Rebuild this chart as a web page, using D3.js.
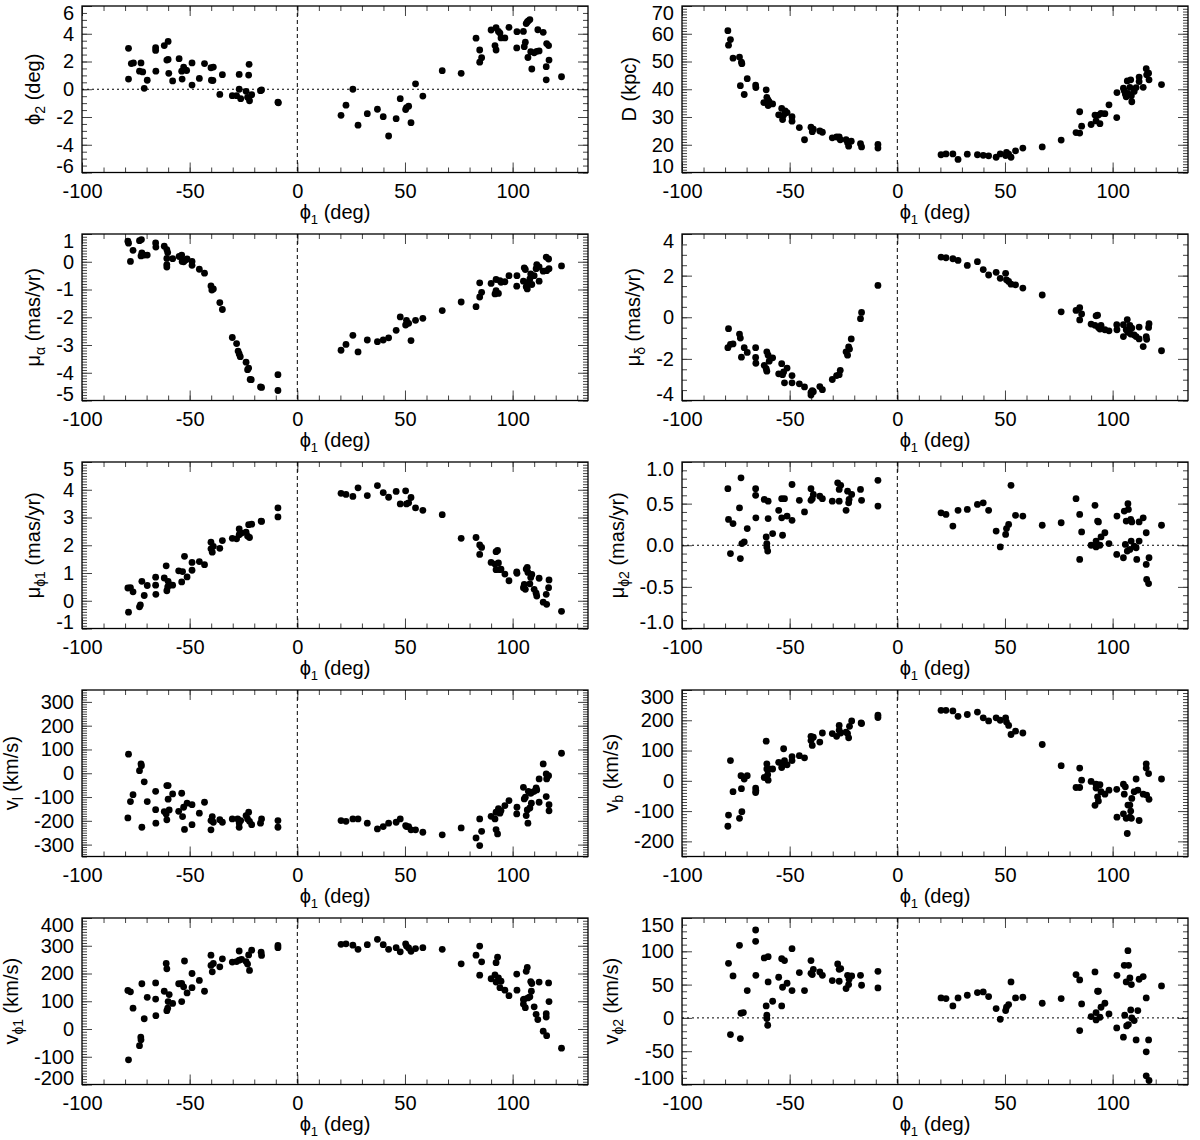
<!DOCTYPE html>
<html>
<head>
<meta charset="utf-8">
<script src="https://cdn.jsdelivr.net/npm/d3@7"></script>
<style>
  body { margin: 0; background: #fff; }
  text { font-family: "Liberation Sans", Arial, Helvetica, sans-serif; font-size: 20px; fill: #000; }
</style>
</head>
<body>
<svg id="fig" width="1200" height="1140"></svg>
<script>
// phi1 (deg) vs value, one array per panel
var phi2Pts = [
[-78.4,2.95],[-78.4,0.73],[-77.1,1.85],[-76.1,1.9],[-72.6,1.9],[-73.3,1.3],[-71.8,1.25],[-71.1,0.07],[-69.7,0.65],[-65.8,2.8],[-65.8,3.0],[-65.7,1.3],[-61.8,3.15],[-60.0,3.45],[-60.6,2.1],[-60.0,2.15],[-59.7,1.15],[-57.9,0.6],[-54.9,2.2],[-53.7,1.3],[-53.5,0.73],[-52.8,1.6],[-52.1,1.4],[-51.4,1.35],[-48.9,1.9],[-48.9,0.3],[-45.5,0.78],[-43.1,1.85],[-40.1,1.55],[-39.0,1.6],[-39.9,0.65],[-39.2,0.63],[-36.0,-0.37],[-34.8,1.05],[-30.2,-0.46],[-28.2,-0.46],[-27.0,1.07],[-27.0,0.0],[-26.3,-0.68],[-23.8,-0.15],[-23.1,-0.58],[-22.6,1.02],[-22.4,1.8],[-22.2,-0.83],[-21.2,-0.39],[-17.1,-0.1],[-16.6,-0.05],[-8.8,-0.98],[-9.0,-0.93],
[20.3,-1.88],[22.6,-1.15],[25.8,0.0],[28.2,-2.59],[32.5,-1.76],[37.2,-1.44],[39.9,-1.98],[42.4,-3.37],[45.9,-2.12],[47.8,-0.68],[50.3,-1.46],[50.7,-1.32],[51.7,-1.22],[52.8,-2.41],[54.9,0.39],[58.3,-0.49],[67.3,1.34],[76.1,1.15],[83.0,3.68],[84.7,2.83],[84.7,1.95],[85.6,2.27],[90.0,4.27],[91.8,3.15],[92.3,2.83],[92.3,4.44],[93.4,4.17],[94.1,4.05],[94.6,3.7],[96.4,3.7],[98.3,4.46],[102.0,4.15],[101.9,2.98],[105.0,4.17],[105.4,3.07],[105.9,3.39],[106.3,4.73],[106.8,4.85],[107.3,4.93],[108.0,5.02],[107.1,2.29],[108.4,2.71],[108.9,1.46],[110.0,2.63],[111.2,2.73],[112.3,2.76],[111.7,4.29],[114.2,4.1],[115.6,1.63],[115.6,0.68],[115.8,3.29],[116.7,3.15],[116.9,2.1],[122.7,0.9]
];

var distPts = [
[-78.7,61.1],[-78.4,55.9],[-77.5,57.9],[-76.3,51.2],[-73.3,51.6],[-72.4,49.8],[-72.2,49.2],[-72.9,41.3],[-71.1,38.1],[-69.7,43.8],[-65.8,41.5],[-65.7,40.6],[-60.9,39.8],[-62.0,35.2],[-60.6,37.1],[-60.0,36.1],[-60.0,34.1],[-59.5,35.4],[-57.9,34.7],[-55.1,30.8],[-53.7,33.1],[-53.3,29.1],[-52.8,30.7],[-52.1,32.2],[-51.2,31.6],[-48.9,30.1],[-48.9,28.5],[-45.5,26.2],[-43.1,21.8],[-40.1,26.3],[-39.5,24.7],[-39.0,25.6],[-36.0,25.0],[-34.8,24.5],[-30.2,22.5],[-28.2,22.8],[-27.0,22.8],[-26.5,21.8],[-23.8,21.8],[-23.1,20.7],[-22.6,19.5],[-21.4,21.3],[-17.1,20.4],[-16.6,19.2],[-9.0,20.1],[-9.0,18.8],
[20.3,16.4],[22.6,16.7],[25.8,16.7],[28.2,14.7],[32.5,16.6],[37.2,16.4],[39.9,16.2],[42.4,16.0],[45.9,15.5],[47.8,16.7],[50.3,16.1],[50.7,17.2],[51.7,16.6],[52.8,15.5],[54.9,17.8],[58.3,18.8],[67.3,19.2],[76.1,21.7],[83.0,24.4],[84.7,24.2],[84.7,31.9],[85.6,26.7],[90.0,27.3],[91.8,30.7],[92.3,28.6],[93.4,30.7],[94.1,27.6],[94.6,31.3],[96.4,31.2],[98.3,34.4],[101.9,29.8],[102.0,38.8],[105.0,40.4],[105.4,39.5],[105.9,38.3],[106.3,37.3],[106.8,43.0],[107.1,38.5],[108.0,40.7],[108.4,43.4],[108.7,37.7],[108.9,35.5],[110.0,39.2],[110.9,40.6],[112.3,44.4],[112.3,42.8],[114.2,40.7],[115.6,47.4],[115.8,45.2],[116.7,45.8],[116.9,43.4],[122.7,41.7]
];

var muAlphaPts = [
[-78.7,0.74],[-78.4,0.67],[-77.5,0.01],[-76.3,0.41],[-73.3,0.76],[-72.4,0.8],[-72.6,0.21],[-72.2,0.32],[-71.1,0.24],[-69.7,0.24],[-65.8,0.68],[-65.7,0.53],[-61.8,0.56],[-60.6,0.44],[-60.2,0.33],[-60.6,0.12],[-60.6,-0.1],[-60.6,-0.19],[-57.9,0.11],[-54.9,0.19],[-53.7,0.24],[-53.5,0.01],[-52.8,0.0],[-52.1,0.05],[-51.2,0.1],[-48.9,0.01],[-48.9,-0.13],[-45.5,-0.27],[-43.1,-0.41],[-40.1,-0.87],[-39.7,-1.02],[-39.0,-0.98],[-36.0,-1.47],[-34.8,-1.72],[-30.2,-2.73],[-28.2,-2.95],[-27.5,-3.22],[-27.0,-3.32],[-26.5,-3.42],[-23.8,-3.62],[-23.1,-3.89],[-22.6,-3.83],[-21.9,-4.24],[-21.4,-4.25],[-17.1,-4.51],[-16.6,-4.53],[-9.0,-4.07],[-9.0,-4.64],
[20.3,-3.19],[22.6,-2.98],[25.8,-2.65],[28.2,-3.25],[32.5,-2.82],[37.2,-2.88],[39.9,-2.82],[42.4,-2.74],[45.9,-2.47],[47.8,-1.99],[50.3,-2.28],[50.7,-2.11],[51.7,-2.22],[52.8,-2.84],[54.9,-2.11],[58.3,-2.04],[67.3,-1.76],[76.1,-1.45],[83.0,-1.62],[84.7,-0.76],[84.7,-1.27],[85.6,-1.1],[90.0,-0.78],[91.8,-1.16],[92.3,-0.64],[92.3,-1.04],[93.4,-1.14],[94.1,-0.68],[94.6,-0.74],[96.4,-0.72],[98.3,-0.5],[101.9,-0.88],[102.0,-0.5],[105.0,-0.7],[105.4,-0.22],[105.9,-0.28],[106.3,-0.9],[106.8,-0.98],[107.1,-0.74],[108.0,-0.62],[108.4,-0.44],[108.9,-0.82],[110.0,-0.5],[110.9,-0.25],[111.2,-0.1],[112.3,-0.7],[112.3,-0.19],[114.2,-0.34],[115.6,0.17],[115.8,-0.32],[116.7,0.1],[116.9,-0.25],[122.7,-0.15]
];

var muDeltaPts = [
[-78.4,-0.55],[-78.7,-1.46],[-77.5,-1.3],[-76.3,-1.28],[-73.3,-0.81],[-72.9,-1.0],[-72.4,-1.92],[-71.1,-1.46],[-69.7,-1.69],[-65.8,-1.46],[-65.8,-1.93],[-65.7,-2.21],[-61.8,-2.31],[-60.9,-2.47],[-60.6,-2.59],[-60.6,-1.66],[-60.0,-1.82],[-59.5,-2.11],[-57.9,-1.95],[-55.1,-2.72],[-53.7,-2.23],[-53.3,-2.76],[-52.8,-2.63],[-52.4,-3.15],[-51.2,-2.44],[-48.9,-3.15],[-48.9,-2.8],[-45.5,-3.2],[-43.1,-3.35],[-40.1,-3.61],[-40.1,-3.74],[-39.5,-3.53],[-39.0,-3.58],[-36.0,-3.33],[-34.8,-3.48],[-30.2,-2.99],[-28.2,-2.8],[-27.0,-2.76],[-26.5,-2.55],[-23.8,-1.66],[-23.1,-1.82],[-22.6,-1.43],[-22.2,-1.53],[-21.4,-1.04],[-17.1,-0.07],[-16.6,0.23],[-9.0,1.53],
[20.3,2.89],[22.6,2.86],[25.8,2.81],[28.2,2.73],[32.5,2.49],[37.2,2.67],[39.9,2.29],[42.4,2.03],[45.9,2.16],[47.8,1.87],[50.3,2.11],[50.7,1.8],[51.7,1.72],[52.8,1.59],[54.9,1.56],[58.3,1.4],[67.3,1.07],[76.1,0.26],[83.0,0.33],[84.7,0.46],[84.7,-0.13],[85.6,0.16],[90.0,-0.33],[91.8,-0.39],[92.3,0.07],[93.0,0.1],[93.4,-0.49],[94.1,-0.57],[94.6,-0.39],[96.4,-0.6],[98.3,-0.65],[101.9,-0.36],[102.0,-0.6],[105.0,-0.36],[105.0,-0.93],[106.3,-0.6],[106.8,-0.11],[107.1,-0.72],[108.0,-0.39],[108.4,-0.81],[108.9,-0.52],[110.0,-0.85],[110.9,-0.93],[112.3,-0.47],[112.3,-1.04],[114.2,-1.41],[115.6,-0.93],[115.8,-1.06],[116.7,-0.49],[116.9,-0.31],[122.7,-1.61]
];

var muPhi1Pts = [
[-78.4,-0.41],[-78.7,0.46],[-77.5,0.47],[-76.3,0.32],[-73.3,-0.22],[-72.9,-0.15],[-72.2,0.7],[-71.1,0.19],[-69.7,0.55],[-65.8,0.85],[-65.8,0.56],[-65.7,0.23],[-61.8,0.82],[-60.9,1.26],[-60.6,0.36],[-60.2,0.5],[-60.0,0.7],[-59.5,0.58],[-57.9,0.56],[-55.1,1.08],[-53.7,0.68],[-53.3,1.05],[-52.4,1.6],[-51.2,0.86],[-48.9,1.38],[-48.9,1.1],[-45.5,1.41],[-43.1,1.3],[-40.1,2.11],[-40.1,1.87],[-39.5,1.75],[-39.0,1.96],[-36.0,1.89],[-34.8,2.17],[-30.2,2.25],[-28.2,2.23],[-27.0,2.59],[-27.0,2.38],[-25.9,2.44],[-23.8,2.47],[-23.1,2.33],[-22.6,2.74],[-22.2,2.28],[-21.2,2.76],[-16.8,2.87],[-16.6,2.86],[-9.0,3.35],[-9.0,3.02],
[20.3,3.87],[22.6,3.83],[25.8,3.76],[28.2,4.07],[32.5,3.79],[37.2,4.15],[39.9,3.9],[42.4,3.73],[45.9,3.94],[47.8,3.49],[50.3,3.96],[50.7,3.49],[51.7,3.53],[52.8,3.72],[54.9,3.35],[58.3,3.26],[67.3,3.1],[76.1,2.25],[83.0,2.28],[84.7,2.01],[84.7,1.67],[85.6,1.92],[90.0,1.38],[91.8,1.32],[92.3,1.77],[93.0,1.81],[92.3,1.12],[93.4,1.36],[94.1,1.12],[94.6,1.14],[96.4,0.96],[98.3,0.72],[101.9,1.04],[102.0,0.99],[105.0,0.47],[105.4,0.59],[105.9,0.41],[106.3,1.14],[106.8,1.2],[107.1,1.02],[108.0,0.61],[108.4,0.84],[108.9,0.95],[110.0,0.41],[110.9,0.27],[111.2,0.17],[112.3,0.81],[114.2,-0.05],[115.6,0.23],[115.8,-0.13],[116.7,0.47],[116.9,0.75],[122.7,-0.38]
];

var muPhi2Pts = [
[-78.7,0.68],[-78.4,0.31],[-77.5,-0.1],[-76.3,0.26],[-73.3,0.45],[-72.6,0.81],[-72.9,-0.16],[-72.2,0.02],[-71.1,0.04],[-69.7,0.2],[-65.8,0.68],[-65.8,0.6],[-65.7,0.33],[-61.8,0.55],[-60.9,0.1],[-60.6,0.02],[-60.6,-0.02],[-60.2,-0.07],[-60.0,0.53],[-60.0,0.32],[-57.9,0.14],[-55.1,0.42],[-53.7,0.56],[-53.7,0.33],[-53.3,0.12],[-52.4,0.56],[-51.2,0.35],[-48.9,0.73],[-48.9,0.3],[-45.5,0.54],[-43.1,0.4],[-40.1,0.68],[-40.1,0.54],[-39.5,0.56],[-39.0,0.61],[-36.0,0.59],[-34.8,0.56],[-30.2,0.53],[-27.7,0.75],[-27.0,0.67],[-27.0,0.53],[-26.3,0.72],[-23.8,0.42],[-23.1,0.65],[-22.6,0.51],[-22.4,0.55],[-21.2,0.61],[-17.1,0.67],[-16.6,0.54],[-9.0,0.78],[-9.0,0.47],
[20.3,0.39],[22.6,0.37],[25.8,0.23],[28.2,0.42],[32.5,0.43],[37.2,0.49],[39.9,0.51],[42.4,0.42],[45.9,0.17],[47.8,-0.02],[50.3,0.13],[50.7,0.2],[51.7,0.25],[52.8,0.72],[54.9,0.36],[58.3,0.35],[67.3,0.24],[76.1,0.27],[83.0,0.56],[84.7,0.37],[84.7,-0.17],[85.6,0.16],[90.0,0.0],[91.8,0.48],[92.3,0.05],[92.3,-0.02],[93.0,0.29],[93.4,0.28],[94.1,0.0],[94.6,0.1],[96.4,0.15],[98.3,0.02],[101.9,-0.11],[102.0,0.35],[105.0,-0.15],[105.4,0.41],[105.9,0.01],[106.3,0.29],[106.8,-0.07],[107.1,0.5],[107.3,0.43],[108.0,-0.05],[108.4,0.31],[108.6,0.05],[108.9,0.28],[110.0,-0.01],[110.9,-0.03],[111.2,-0.17],[112.3,0.28],[112.3,0.05],[114.2,0.33],[115.6,0.15],[115.6,-0.23],[115.8,-0.41],[116.7,-0.46],[116.9,-0.15],[122.7,0.24]
];

var vlPts = [
[-78.4,80],[-78.7,-188],[-77.5,-119],[-76.3,-90],[-73.3,11],[-72.6,39],[-72.4,32],[-72.2,-227],[-71.1,-36],[-69.7,-119],[-65.8,-76],[-65.8,-153],[-65.7,-210],[-61.8,-161],[-60.9,-171],[-60.6,-196],[-60.6,-52],[-60.0,-52],[-60.0,-109],[-59.5,-154],[-57.9,-87],[-55.1,-160],[-53.7,-84],[-53.3,-182],[-52.8,-143],[-52.4,-236],[-51.2,-126],[-48.9,-132],[-48.9,-216],[-45.5,-168],[-43.1,-122],[-40.1,-199],[-40.1,-238],[-39.5,-182],[-39.0,-206],[-36.0,-195],[-34.8,-206],[-30.2,-192],[-27.7,-192],[-27.0,-209],[-27.0,-227],[-26.3,-199],[-23.8,-178],[-23.1,-192],[-22.6,-164],[-22.2,-202],[-21.2,-216],[-17.1,-210],[-16.6,-192],[-9.0,-199],[-9.0,-227],
[20.3,-199],[22.6,-202],[25.8,-192],[28.2,-192],[32.5,-210],[37.2,-234],[39.9,-224],[42.4,-210],[45.9,-206],[47.8,-192],[50.3,-220],[50.7,-224],[51.7,-224],[52.8,-238],[54.9,-238],[58.3,-248],[67.3,-259],[76.1,-230],[83.0,-272],[84.7,-304],[84.7,-192],[85.6,-244],[90.0,-181],[91.8,-192],[92.3,-164],[92.3,-237],[93.0,-255],[93.4,-149],[94.1,-168],[94.6,-157],[96.4,-136],[98.3,-115],[101.9,-171],[102.0,-143],[105.0,-59],[105.4,-108],[105.9,-101],[106.3,-178],[106.8,-154],[107.1,-210],[107.3,-76],[108.0,-146],[108.4,-84],[108.7,-126],[108.9,-80],[110.0,-76],[110.9,-62],[111.2,-70],[112.3,-24],[112.3,-122],[114.2,39],[115.6,-3],[115.6,-98],[115.8,-24],[116.7,-10],[116.9,-132],[116.9,-158],[122.7,84]
];

var vbPts = [
[-78.7,-150],[-78.4,-113],[-77.5,67],[-76.3,-36],[-73.3,-124],[-72.6,17],[-72.4,-26],[-72.2,-102],[-71.1,6],[-69.7,17],[-65.8,-24],[-65.8,-39],[-65.7,-33],[-61.8,11],[-60.9,131],[-60.6,56],[-60.6,39],[-60.2,20],[-60.0,2],[-59.5,39],[-57.9,39],[-55.1,61],[-53.7,58],[-53.7,44],[-52.8,106],[-52.4,67],[-51.2,53],[-48.9,80],[-48.9,67],[-45.5,83],[-43.1,76],[-40.1,147],[-40.1,133],[-39.5,117],[-39.0,144],[-36.0,128],[-34.8,158],[-30.2,156],[-28.2,147],[-27.0,183],[-27.0,167],[-26.3,158],[-23.8,161],[-23.1,156],[-22.6,142],[-22.2,180],[-21.2,198],[-16.8,191],[-16.6,189],[-9.0,217],[-9.0,209],
[20.3,233],[22.6,233],[25.8,231],[28.2,213],[32.5,219],[37.2,227],[39.9,208],[42.4,198],[45.9,208],[47.8,200],[50.3,208],[50.7,194],[51.7,183],[52.8,153],[54.9,164],[58.3,158],[67.3,120],[76.1,50],[83.0,-22],[84.7,42],[84.7,-22],[85.6,2],[90.0,-2],[91.8,-81],[92.3,-11],[92.3,-24],[93.0,-53],[93.4,-67],[94.1,-13],[94.6,-36],[96.4,-44],[98.3,-31],[101.9,-28],[102.0,-120],[105.0,-109],[105.0,-11],[105.4,-44],[105.9,-20],[106.3,-124],[106.8,-174],[107.1,-80],[108.0,-80],[108.0,-120],[108.4,-100],[108.7,-124],[108.9,-58],[110.0,-36],[110.9,6],[111.7,-31],[112.3,-131],[114.2,-44],[115.6,56],[115.6,42],[115.8,-47],[116.7,24],[116.9,-61],[122.7,6]
];

var vPhi1Pts = [
[-78.7,139],[-77.5,134],[-78.4,-111],[-76.3,75],[-73.3,-60],[-72.7,-29],[-72.6,-39],[-72.2,163],[-71.1,37],[-69.7,114],[-65.8,166],[-65.8,108],[-65.7,48],[-61.8,136],[-60.9,236],[-60.6,217],[-60.6,66],[-60.2,75],[-60.0,99],[-59.5,124],[-57.9,92],[-55.1,163],[-53.7,164],[-53.7,99],[-52.8,152],[-52.4,245],[-51.2,130],[-48.9,200],[-48.9,149],[-45.5,175],[-43.1,136],[-40.1,266],[-40.1,229],[-39.5,206],[-39.0,236],[-36.0,224],[-34.8,253],[-30.2,241],[-28.2,243],[-27.0,281],[-27.0,248],[-25.9,251],[-23.8,243],[-23.1,234],[-22.6,267],[-22.2,211],[-21.2,284],[-16.8,277],[-16.6,265],[-9.0,301],[-9.0,293],
[20.3,305],[22.6,307],[25.8,302],[28.2,287],[32.5,304],[37.2,323],[39.9,304],[42.4,287],[45.9,293],[47.8,278],[50.3,307],[50.7,299],[51.7,292],[52.8,280],[54.9,290],[58.3,293],[67.3,287],[76.1,235],[83.0,266],[84.7,299],[84.7,194],[85.6,242],[90.0,181],[91.8,195],[92.3,239],[92.3,169],[93.0,259],[93.4,184],[94.1,149],[94.6,172],[96.4,140],[98.3,120],[101.9,198],[102.0,140],[105.0,106],[105.0,90],[105.4,108],[105.9,77],[106.3,208],[106.8,222],[107.1,112],[108.0,116],[108.4,171],[108.7,136],[108.9,164],[110.0,80],[110.9,53],[111.7,34],[112.3,169],[114.2,-8],[115.6,55],[115.6,43],[115.8,-24],[116.7,166],[116.9,99],[122.7,-69]
];

var vPhi2Pts = [
[-78.4,82],[-77.5,-25],[-76.3,63],[-73.3,109],[-72.9,-31],[-72.6,7],[-71.5,8],[-69.7,41],[-65.8,132],[-65.8,115],[-65.7,64],[-61.8,90],[-60.9,18],[-60.6,4],[-60.6,-1],[-60.2,-11],[-60.0,92],[-60.0,54],[-57.9,25],[-55.1,61],[-53.7,89],[-53.7,18],[-53.3,46],[-52.4,86],[-51.2,52],[-48.9,104],[-48.9,41],[-45.5,68],[-43.1,41],[-40.1,86],[-40.1,67],[-39.5,65],[-39.0,73],[-36.0,69],[-34.8,64],[-30.2,56],[-27.7,81],[-27.0,73],[-27.0,55],[-26.3,74],[-23.8,44],[-23.1,64],[-22.6,50],[-22.4,58],[-21.2,63],[-17.1,64],[-16.6,49],[-9.0,70],[-9.0,45],
[20.3,30],[22.6,29],[25.8,18],[28.2,30],[32.5,34],[37.2,38],[39.9,39],[42.4,32],[45.9,14],[47.8,-2],[50.3,11],[50.7,16],[51.7,20],[52.8,54],[54.9,30],[58.3,31],[67.3,22],[76.1,29],[83.0,65],[84.7,57],[84.7,-19],[85.6,21],[90.0,2],[91.8,69],[92.3,-3],[92.3,8],[93.0,40],[93.4,40],[94.1,1],[94.6,16],[96.4,22],[98.3,6],[101.9,-15],[102.0,64],[105.0,-29],[105.4,79],[105.6,4],[106.3,54],[106.5,-12],[107.1,101],[107.4,79],[107.3,-10],[108.0,60],[108.4,12],[108.7,50],[108.9,0],[110.0,-4],[110.9,-33],[111.7,11],[112.3,58],[114.2,62],[115.6,30],[115.6,-51],[115.6,-87],[116.7,-33],[116.9,-94],[122.7,48]
];

// shared x axis
var xDomain = [-100, 135];
var xTicks = [-100, -50, 0, 50, 100];
var xMinorStep = 10;

// panel order: left column, right column, row by row
var panels = [
  { pts: phi2Pts,    dom: [-6, 6],       step: 2,   minor: 0.5, dec: 0, title: ["\u03d5", "2", " (deg)"], zero: true },
  { pts: distPts,    dom: [10, 70],      step: 10,  minor: 1,   dec: 0, title: ["D (kpc)"] },
  { pts: muAlphaPts, dom: [-5, 1],       step: 1,   minor: 0.1, dec: 0, title: ["\u03bc", "\u03b1", " (mas/yr)"] },
  { pts: muDeltaPts, dom: [-4, 4],       step: 2,   minor: 0.5, dec: 0, title: ["\u03bc", "\u03b4", " (mas/yr)"] },
  { pts: muPhi1Pts,  dom: [-1, 5],       step: 1,   minor: 0.1, dec: 0, title: ["\u03bc", "\u03d51", " (mas/yr)"] },
  { pts: muPhi2Pts,  dom: [-1, 1],       step: 0.5, minor: 0.1, dec: 1, title: ["\u03bc", "\u03d52", " (mas/yr)"], zero: true },
  { pts: vlPts,      dom: [-350, 350],   step: 100, minor: 10,  dec: 0, title: ["v", "l", " (km/s)"], t0: -300 },
  { pts: vbPts,      dom: [-250, 300],   step: 100, minor: 10,  dec: 0, title: ["v", "b", " (km/s)"], t0: -200 },
  { pts: vPhi1Pts,   dom: [-200, 400],   step: 100, minor: 10,  dec: 0, title: ["v", "\u03d51", " (km/s)"] },
  { pts: vPhi2Pts,   dom: [-100, 150],   step: 50,  minor: 10,  dec: 0, title: ["v", "\u03d52", " (km/s)"], zero: true }
];

var colLeft = [82, 682], boxW = 506;
var rowTop = 6, rowStep = 228, boxH = 166.5;
var majorLen = 10, minorLen = 5;

var svg = d3.select("#fig");

function steps(a, b, s) {
  var out = [], n = Math.round((b - a) / s);
  for (var i = 0; i <= n; i++) out.push(+(a + i * s).toFixed(6));
  return out;
}

function fmt(dec) {
  return function (v) { return v.toFixed(dec); };
}

function cleanAxis(g) {
  g.select(".domain").remove();
  g.attr("font-size", null).attr("font-family", null);
  g.selectAll("line").attr("stroke", "#444").attr("stroke-width", 1);
}

panels.forEach(function (p, i) {
  var col = i % 2, row = Math.floor(i / 2);
  var left = colLeft[col], top = rowTop + row * rowStep;
  var g = svg.append("g").attr("transform", "translate(" + left + "," + top + ")");

  var x = d3.scaleLinear().domain(xDomain).range([0, boxW]);
  var y = d3.scaleLinear().domain(p.dom).range([boxH, 0]);

  var yMajor = steps(p.t0 !== undefined ? p.t0 : p.dom[0], p.dom[1], p.step)
    .filter(function (v) { return v >= p.dom[0] && v <= p.dom[1]; });
  var yMinor = steps(p.dom[0], p.dom[1], p.minor);
  var xMinor = steps(xDomain[0], 130, xMinorStep);

  // minor ticks on all four sides
  g.append("g").call(d3.axisLeft(y).tickValues(yMinor).tickSize(-minorLen).tickFormat("")).call(cleanAxis);
  g.append("g").attr("transform", "translate(" + boxW + ",0)")
    .call(d3.axisRight(y).tickValues(yMinor).tickSize(-minorLen).tickFormat("")).call(cleanAxis);
  g.append("g").call(d3.axisTop(x).tickValues(xMinor).tickSize(-minorLen).tickFormat("")).call(cleanAxis);
  g.append("g").attr("transform", "translate(0," + boxH + ")")
    .call(d3.axisBottom(x).tickValues(xMinor).tickSize(-minorLen).tickFormat("")).call(cleanAxis);

  // major ticks
  var yAx = g.append("g")
    .call(d3.axisLeft(y).tickValues(yMajor).tickSize(-majorLen).tickPadding(8).tickFormat(fmt(p.dec)))
    .call(cleanAxis);
  g.append("g").attr("transform", "translate(" + boxW + ",0)")
    .call(d3.axisRight(y).tickValues(yMajor).tickSize(-majorLen).tickFormat("")).call(cleanAxis);
  g.append("g").call(d3.axisTop(x).tickValues(xTicks).tickSize(-majorLen).tickFormat("")).call(cleanAxis);
  g.append("g").attr("transform", "translate(0," + boxH + ")")
    .call(d3.axisBottom(x).tickValues(xTicks).tickSize(-majorLen).tickPadding(11).tickFormat(fmt(0)))
    .call(cleanAxis);

  // keep end labels inside the box height
  yAx.selectAll("text").each(function (v) {
    var ty = y(v), shift = 0;
    if (ty < 7) shift = 7 - ty;
    if (ty > boxH - 6) shift = boxH - 6 - ty;
    d3.select(this).attr("y", shift);
  });

  // reference lines
  g.append("line")
    .attr("x1", x(0)).attr("x2", x(0)).attr("y1", 0).attr("y2", boxH)
    .attr("stroke", "#000").attr("stroke-width", 1).attr("stroke-dasharray", "4,3");
  if (p.zero) {
    g.append("line")
      .attr("x1", 0).attr("x2", boxW).attr("y1", y(0)).attr("y2", y(0))
      .attr("stroke", "#000").attr("stroke-width", 1).attr("stroke-dasharray", "2,3");
  }

  // frame
  g.append("rect").attr("width", boxW).attr("height", boxH)
    .attr("fill", "none").attr("stroke", "#000").attr("stroke-width", 1.3);

  // points
  g.append("g").selectAll("circle")
    .data(p.pts)
    .enter().append("circle")
    .attr("cx", function (d) { return x(d[0]); })
    .attr("cy", function (d) { return y(d[1]); })
    .attr("r", 3.4)
    .attr("fill", "#000");

  // x title
  var xt = g.append("text")
    .attr("x", boxW / 2).attr("y", boxH + 46)
    .attr("text-anchor", "middle");
  xt.append("tspan").text("\u03d5");
  xt.append("tspan").attr("font-size", 13).attr("dy", 5).text("1");
  xt.append("tspan").attr("dy", -5).text(" (deg)");

  // y title, placed left of the widest tick label
  var maxW = 0;
  yAx.selectAll("text").each(function () {
    maxW = Math.max(maxW, this.getComputedTextLength());
  });
  var tx = -(8 + maxW + 16);
  var yt = g.append("text")
    .attr("transform", "translate(" + tx + "," + (boxH / 2) + ") rotate(-90)")
    .attr("text-anchor", "middle");
  yt.append("tspan").text(p.title[0]);
  if (p.title.length > 1) {
    yt.append("tspan").attr("font-size", 14).attr("dy", 5).text(p.title[1]);
    yt.append("tspan").attr("dy", -5).text(p.title[2]);
  }
});
</script>
</body>
</html>
